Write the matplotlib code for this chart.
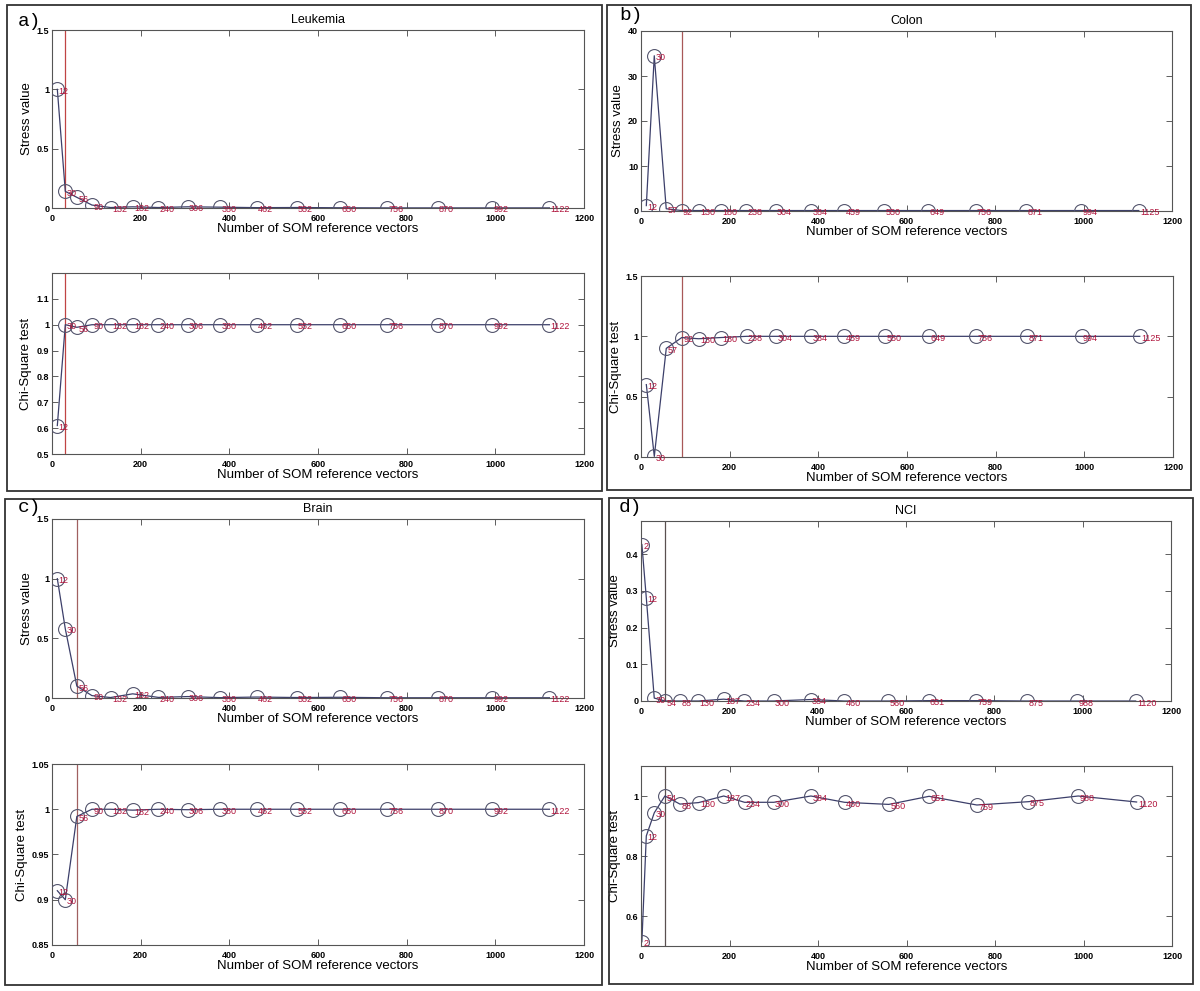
import matplotlib
matplotlib.use("Agg")
import matplotlib.pyplot as plt
from matplotlib import patches

plt.rcParams['font.family'] = ['Liberation Sans', 'DejaVu Sans']

# --- data ---
leuk_x = [12, 30, 56, 90, 132, 182, 240, 306, 380, 462, 552, 650, 756, 870, 992, 1122]
leuk_stress = [1.0, 0.14, 0.09, 0.025, 0.004, 0.01, 0.004, 0.01, 0.007, 0.003, 0.004, 0.002, 0.001, 0.001, 0.001, 0.001]
leuk_chi = [0.61, 1.0, 0.99, 1.0, 1.0, 1.0, 1.0, 1.0, 1.0, 1.0, 1.0, 1.0, 1.0, 1.0, 1.0, 1.0]

colon_x = [12, 30, 57, 92, 130, 180, 238, 304, 384, 459, 550, 649, 756, 871, 994, 1125]
colon_stress = [1.2, 34.5, 0.5, 0.1, 0.1, 0.1, 0.1, 0.1, 0.1, 0.1, 0.1, 0.1, 0.1, 0.1, 0.1, 0.1]
colon_chi = [0.60, 0.005, 0.90, 0.99, 0.98, 0.99, 1.0, 1.0, 1.0, 1.0, 1.0, 1.0, 1.0, 1.0, 1.0, 1.0]

brain_x = [12, 30, 56, 90, 132, 182, 240, 306, 380, 462, 552, 650, 756, 870, 992, 1122]
brain_stress = [1.0, 0.58, 0.1, 0.02, 0.004, 0.035, 0.005, 0.012, 0.003, 0.008, 0.004, 0.006, 0.002, 0.002, 0.002, 0.002]
brain_chi = [0.910, 0.900, 0.992, 1.0, 1.0, 0.999, 1.0, 0.9995, 1.0, 1.0, 1.0, 1.0, 1.0, 1.0, 1.0, 1.0]

nci_x = [2, 12, 30, 54, 88, 130, 187, 234, 300, 384, 460, 560, 651, 759, 875, 988, 1120]
nci_stress = [0.426, 0.281, 0.008, 0.0, 0.0, 0.0, 0.005, 0.0, 0.0, 0.004, 0.0, 0.0, 0.001, 0.001, 0.0, 0.0, 0.0]
nci_chi = [0.514, 0.867, 0.944, 1.0, 0.973, 0.978, 1.0, 0.979, 0.979, 1.0, 0.979, 0.972, 0.999, 0.97, 0.981, 1.0, 0.98]

panels = [
    # letter, title, x, stress, chi, cut, stress ylim/ticks, chi ylim/ticks, vline colour
    ("a)", "Leukemia", leuk_x, leuk_stress, leuk_chi, 30,
     (0, 1.5), [0, 0.5, 1, 1.5], (0.5, 1.2), [0.5, 0.6, 0.7, 0.8, 0.9, 1, 1.1], "#c04444"),
    ("b)", "Colon", colon_x, colon_stress, colon_chi, 92,
     (0, 40), [0, 10, 20, 30, 40], (0, 1.5), [0, 0.5, 1, 1.5], "#a85858"),
    ("c)", "Brain", brain_x, brain_stress, brain_chi, 56,
     (0, 1.5), [0, 0.5, 1, 1.5], (0.85, 1.05), [0.85, 0.9, 0.95, 1, 1.05], "#a06060"),
    ("d)", "NCI", nci_x, nci_stress, nci_chi, 54,
     (0, 0.49), [0, 0.1, 0.2, 0.3, 0.4], (0.5, 1.1), [0.6, 0.8, 1], "#5a5050"),
]

W, H = 1200, 991
fig = plt.figure(figsize=(W / 100, H / 100), dpi=100)

# pixel boxes: frame (l, t, r, b), top axes, bottom axes, letter position
layout = [
    ((7, 5, 602, 491), (52, 30, 584, 208), (52, 273, 584, 454), (18, 21)),
    ((607, 5, 1191, 490), (641, 31, 1172, 211), (641, 276, 1173, 457), (619, 16)),
    ((5, 499, 602, 985), (52, 519, 584, 698), (52, 764, 584, 945), (18, 508)),
    ((609, 498, 1193, 984), (641, 521, 1171, 701), (641, 766, 1172, 946), (619, 508)),
]


def px_axes(box):
    l, t, r, b = box
    return fig.add_axes([l / W, 1 - b / H, (r - l) / W, (b - t) / H])


def draw(ax, x, y, cut, ylim, yticks, vcol, ylabel, title=None):
    ax.plot(x, y, '-', color='#3c3f6a', lw=0.9, zorder=2)
    ax.plot(x, y, 'o', mfc='none', mec='#55566e', ms=10, mew=0.8, zorder=3)
    for xi, yi in zip(x, y):
        ax.annotate(str(xi), (xi, yi), xytext=(1, -1.5), textcoords='offset points',
                    fontsize=6.5, color='#b0143c', va='center', ha='left', zorder=4)
    ax.axvline(cut, color=vcol, lw=0.9, zorder=1)
    ax.set_xlim(0, 1200)
    ax.set_ylim(*ylim)
    ax.set_xticks([0, 200, 400, 600, 800, 1000, 1200])
    ax.set_yticks(yticks)
    ax.set_yticklabels([f"{t:g}" for t in yticks])
    ax.tick_params(direction='in', top=True, right=True, labelsize=6.5,
                   length=4, width=0.6, color='#444444', pad=2)
    ax.tick_params(axis='x', pad=4)
    for lab in ax.get_xticklabels() + ax.get_yticklabels():
        lab.set_fontweight('bold')
    for s in ax.spines.values():
        s.set_color('#555555')
        s.set_linewidth(0.8)
    ax.set_xlabel("Number of SOM reference vectors", fontsize=9.5, labelpad=0)
    ax.set_ylabel(ylabel, fontsize=9.5, labelpad=3)
    if title:
        ax.set_title(title, fontsize=9, pad=5)


for (letter, title, x, stress, chi, cut, s_lim, s_ticks, c_lim, c_ticks, vcol), \
        (frame, top_box, bot_box, lpos) in zip(panels, layout):
    fl, ft, fr, fb = frame
    fig.add_artist(patches.Rectangle((fl / W, 1 - fb / H), (fr - fl) / W, (fb - ft) / H,
                                     transform=fig.transFigure, fill=False,
                                     ec='#333333', lw=1.3))
    fig.text(lpos[0] / W, 1 - lpos[1] / H, letter, fontsize=14,
             family=['Liberation Mono', 'DejaVu Sans Mono'], va='center', ha='left')
    ax_top = px_axes(top_box)
    draw(ax_top, x, stress, cut, s_lim, s_ticks, vcol, "Stress value", title)
    ax_bot = px_axes(bot_box)
    draw(ax_bot, x, chi, cut, c_lim, c_ticks, vcol, "Chi-Square test")

fig.savefig("out.png", dpi=100)
